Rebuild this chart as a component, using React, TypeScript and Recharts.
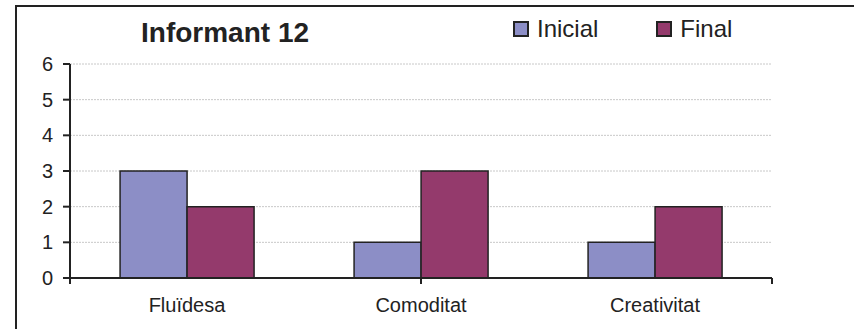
import { BarChart, Bar, XAxis, YAxis, CartesianGrid } from "recharts";

const categories = ["Fluïdesa", "Comoditat", "Creativitat"];
const inicial = [3, 1, 1];
const final = [2, 3, 2];
const yTicks = [0, 1, 2, 3, 4, 5, 6];
const edgeTicks = [0, 1, 2, 3];

const FONT = "'Liberation Sans', Arial, sans-serif";
const INK = "#222";

const series = [
  { key: "Inicial", color: "#8C8EC6" },
  { key: "Final", color: "#943A6C" },
];

const data = categories.map((name, i) => ({
  name,
  Inicial: inicial[i],
  Final: final[i],
}));

function LegendBox() {
  return (
    <div
      style={{
        position: "absolute",
        left: 513,
        top: 17,
        display: "flex",
        fontFamily: FONT,
        fontSize: 24,
        lineHeight: "24px",
        color: INK,
      }}
    >
      {series.map((s, i) => (
        <div
          key={s.key}
          style={{ display: "flex", alignItems: "center", marginRight: i === 0 ? 58 : 0 }}
        >
          <span
            style={{
              width: 12,
              height: 12,
              background: s.color,
              border: `2px solid ${INK}`,
              marginRight: 8,
            }}
          />
          {s.key}
        </div>
      ))}
    </div>
  );
}

const NoLabel = () => <g />;

export default function App() {
  return (
    <div
      style={{
        position: "absolute",
        left: 0,
        top: 0,
        width: 854,
        height: 329,
        overflow: "hidden",
        background: "#fff",
      }}
    >
      {/* frame around the chart, cut off at right and bottom */}
      <div
        style={{
          position: "absolute",
          left: 15,
          top: 5,
          width: 1000,
          height: 1000,
          borderLeft: `2px solid ${INK}`,
          borderTop: `2px solid ${INK}`,
        }}
      />
      <div
        style={{
          position: "absolute",
          left: 141,
          top: 19,
          fontFamily: FONT,
          fontWeight: "bold",
          fontSize: 28,
          lineHeight: "28px",
          color: INK,
        }}
      >
        Informant 12
      </div>
      <LegendBox />
      <div style={{ position: "absolute", left: 0, top: 0 }}>
        <BarChart
          width={854}
          height={329}
          data={data}
          margin={{ top: 64, right: 82, left: 0, bottom: 0 }}
          barCategoryGap="21.4%"
          barGap={0}
        >
          <CartesianGrid
            horizontal
            vertical={false}
            stroke="#c8c8c8"
            strokeDasharray="2 1"
          />
          {/* numeric axis: draws the baseline and the tick marks between categories */}
          <XAxis
            type="number"
            domain={[0, 3]}
            ticks={edgeTicks}
            interval={0}
            height={1}
            axisLine={{ stroke: INK, strokeWidth: 2 }}
            tick={NoLabel}
            tickSize={6}
            tickLine={{ stroke: INK, strokeWidth: 2 }}
          />
          <XAxis
            xAxisId="cats"
            dataKey="name"
            tickLine={false}
            axisLine={false}
            tick={{ fill: INK, fontSize: 20, fontFamily: FONT }}
            tickMargin={13}
            height={50}
          />
          <YAxis
            domain={[0, 6]}
            ticks={yTicks}
            interval={0}
            width={70}
            tickSize={7}
            tickMargin={10}
            axisLine={{ stroke: INK, strokeWidth: 2 }}
            tickLine={{ stroke: INK, strokeWidth: 2 }}
            tick={{ fill: INK, fontSize: 20, fontFamily: FONT }}
          />
          {series.map((s) => (
            <Bar
              key={s.key}
              xAxisId="cats"
              dataKey={s.key}
              fill={s.color}
              stroke={INK}
              strokeWidth={1.5}
              isAnimationActive={false}
            />
          ))}
        </BarChart>
      </div>
    </div>
  );
}
